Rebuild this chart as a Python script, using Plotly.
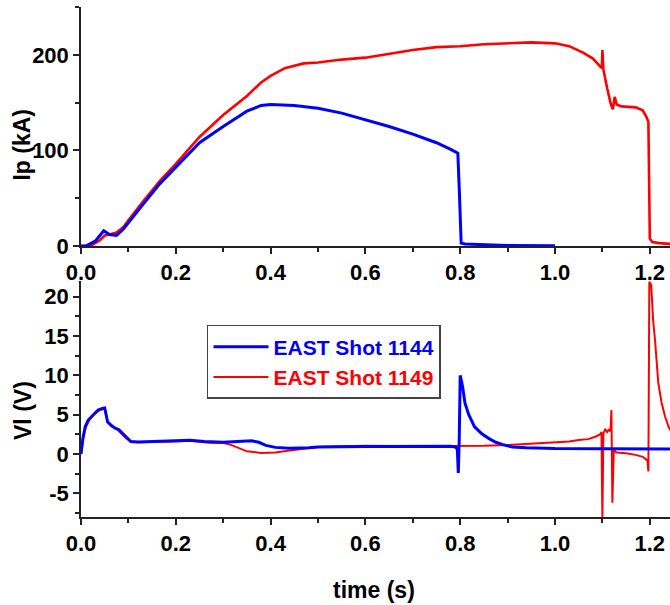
import plotly.graph_objects as go

# ---------------- data ----------------
x_ticks = [0.0, 0.2, 0.4, 0.6, 0.8, 1.0, 1.2]
x_tick_labels = ["0.0", "0.2", "0.4", "0.6", "0.8", "1.0", "1.2"]
ip_ticks = [0, 100, 200]
vl_ticks = [-5, 0, 5, 10, 15, 20]

# Plasma current Ip (kA), shot 1144
t_ip_1144 = [0.0, 0.01, 0.03, 0.048, 0.06, 0.075, 0.09, 0.1, 0.13, 0.166, 0.2, 0.25, 0.3,
             0.35, 0.38, 0.4, 0.45, 0.5, 0.55, 0.6, 0.65, 0.7, 0.75, 0.78, 0.795, 0.798,
             0.802, 0.81, 0.85, 0.9, 1.0]
ip_1144 = [0, 0, 5, 16, 12, 11, 18, 24, 43, 65, 82, 108, 125,
           141, 147, 148, 147, 144, 139, 132, 125, 117, 108, 101, 97, 60,
           3, 2, 1, 0.5, 0.3]

# Plasma current Ip (kA), shot 1149
t_ip_1149 = [0.0, 0.02, 0.04, 0.05, 0.06, 0.075, 0.09, 0.1, 0.13, 0.166, 0.2, 0.25, 0.3,
             0.35, 0.38, 0.4, 0.43, 0.47, 0.5, 0.55, 0.6, 0.65, 0.7, 0.75, 0.8, 0.85,
             0.9, 0.95, 1.0, 1.03, 1.06, 1.08, 1.095, 1.099, 1.1, 1.102, 1.11, 1.118,
             1.122, 1.126, 1.13, 1.14, 1.17, 1.185, 1.192, 1.197, 1.2, 1.205, 1.22, 1.25]
ip_1149 = [0, 0, 6, 11, 12, 14, 20, 27, 46, 68, 86, 114, 137,
           157, 171, 178, 186, 191, 192, 195, 197, 201, 205, 208, 209, 211,
           212, 213, 212, 209, 202, 196, 188, 186, 205, 185, 165, 148,
           143, 156, 148, 146, 145, 142, 136, 130, 8, 4, 3, 2]

# Loop voltage Vl (V), shot 1144
t_vl_1144 = [0.0, 0.004, 0.009, 0.015, 0.023, 0.03, 0.036, 0.045, 0.05, 0.053, 0.056, 0.065,
             0.072, 0.08, 0.09, 0.1, 0.105, 0.12, 0.15, 0.2, 0.23, 0.26, 0.3, 0.33, 0.36,
             0.375, 0.39, 0.41, 0.44, 0.48, 0.5, 0.6, 0.7, 0.78, 0.79, 0.794, 0.796, 0.798,
             0.8, 0.802, 0.805, 0.81, 0.818, 0.83, 0.845, 0.86, 0.875, 0.89, 0.91, 0.94,
             1.0, 1.1, 1.2, 1.25]
vl_1144 = [0, 2.0, 3.5, 4.3, 4.8, 5.3, 5.6, 5.8, 5.85, 5.0, 4.1, 3.6,
           3.3, 3.1, 2.5, 1.9, 1.6, 1.55, 1.6, 1.7, 1.75, 1.6, 1.5, 1.6, 1.7,
           1.5, 1.1, 0.85, 0.75, 0.8, 0.9, 0.95, 0.95, 1.0, 0.9, 0.6, -2.4, 2.0,
           10.0, 9.5, 8.6, 6.5, 5.0, 3.5, 2.6, 2.0, 1.5, 1.2, 0.9, 0.8,
           0.7, 0.68, 0.65, 0.65]

# Loop voltage Vl (V), shot 1149
t_vl_1149 = [0.0, 0.005, 0.01, 0.02, 0.03, 0.04, 0.05, 0.053, 0.057, 0.065, 0.075, 0.085,
             0.095, 0.105, 0.12, 0.2, 0.23, 0.27, 0.3, 0.315, 0.33, 0.35, 0.38, 0.41, 0.44,
             0.47, 0.5, 0.55, 0.6, 0.7, 0.8, 0.85, 0.9, 0.95, 1.0, 1.03, 1.05, 1.07,
             1.085, 1.095, 1.098, 1.1, 1.102, 1.106, 1.11, 1.114, 1.117, 1.119, 1.121,
             1.124, 1.13, 1.15, 1.17, 1.185, 1.195, 1.197, 1.199, 1.203, 1.207, 1.211,
             1.218, 1.225, 1.232, 1.24, 1.245]
vl_1149 = [0, 2.2, 3.4, 4.6, 5.2, 5.6, 5.8, 4.8, 4.0, 3.5, 3.2, 2.6,
           2.0, 1.6, 1.5, 1.6, 1.7, 1.45, 1.4, 1.2, 0.8, 0.35, 0.15, 0.2, 0.45,
           0.7, 0.9, 1.0, 1.05, 1.0, 1.0, 1.05, 1.15, 1.3, 1.5, 1.6, 1.8, 1.9,
           2.2, 2.5, 2.8, -8.3, 2.6, 3.2, 2.8, 3.1, 2.9, 5.6, -6.2,
           0.5, 0.2, 0.1, -0.1, -0.35, -0.8, -2.2, 21.9, 21.5, 17, 14.5,
           9, 6.5, 4.8, 3.4, 2.9]

name_1144 = "EAST Shot 1144"
name_1149 = "EAST Shot 1149"

# ---------------- style ----------------
BLUE = "#0000ff"
RED = "#ff0000"
AXC = "#222222"
FONT = "Liberation Sans, Arial, sans-serif"

fig = go.Figure()
fig.add_trace(go.Scatter(x=t_ip_1149, y=ip_1149, xaxis="x", yaxis="y", mode="lines",
                         line=dict(color=RED, width=2.6), showlegend=False))
fig.add_trace(go.Scatter(x=t_ip_1144, y=ip_1144, xaxis="x", yaxis="y", mode="lines",
                         line=dict(color=BLUE, width=3), showlegend=False))
fig.add_trace(go.Scatter(x=t_vl_1149, y=vl_1149, xaxis="x2", yaxis="y2", mode="lines",
                         name="<span style='color:%s'>%s</span>" % (RED, name_1149),
                         line=dict(color=RED, width=2)))
fig.add_trace(go.Scatter(x=t_vl_1144, y=vl_1144, xaxis="x2", yaxis="y2", mode="lines",
                         name="<span style='color:%s'>%s</span>" % (BLUE, name_1144),
                         line=dict(color=BLUE, width=3)))

tickfont = dict(family=FONT, size=22, color="black", weight="bold")

def xax(anchor):
    return dict(anchor=anchor, domain=[0, 1], range=[0, 1.2426],
                tickmode="array", tickvals=x_ticks, ticktext=x_tick_labels,
                ticks="outside", ticklen=6, tickwidth=1.5, tickcolor=AXC,
                showline=True, linecolor=AXC, linewidth=1.5,
                showgrid=False, zeroline=False, tickfont=tickfont,
                minor=dict(tickmode="linear", tick0=0, dtick=0.1, ticks="outside",
                           ticklen=4, tickwidth=1.5, tickcolor=AXC, showgrid=False))

def yax(anchor, domain, rng, vals, mdt):
    return dict(anchor=anchor, domain=domain, range=rng,
                tickmode="array", tickvals=vals, ticktext=[str(v) for v in vals],
                ticks="outside", ticklen=6, tickwidth=1.5, tickcolor=AXC,
                showline=True, linecolor=AXC, linewidth=1.5,
                showgrid=False, zeroline=False, tickfont=tickfont,
                minor=dict(tickmode="linear", tick0=0, dtick=mdt, ticks="outside",
                           ticklen=4, tickwidth=1.5, tickcolor=AXC, showgrid=False))

titlefont = dict(family=FONT, size=23, color="black", weight="bold")

fig.update_layout(
    width=670, height=605,
    margin=dict(l=81, r=0, t=7, b=88),
    paper_bgcolor="white", plot_bgcolor="white",
    xaxis=xax("y"),
    yaxis=yax("x", [0.5314, 1.0], [0, 250], ip_ticks, 50),
    xaxis2=xax("y2"),
    yaxis2=yax("x2", [0.0, 0.4627], [-8, 22], vl_ticks, 2.5),
    legend=dict(x=0.2139, y=0.3765, xanchor="left", yanchor="top",
                traceorder="reversed",
                bgcolor="white", bordercolor="#444444", borderwidth=1.5,
                font=dict(family=FONT, size=21, weight="bold"),
                itemwidth=55, tracegroupgap=0),
    annotations=[
        dict(text="Ip (kA)", xref="paper", yref="paper", x=-0.1002, y=0.7302,
             xanchor="center", yanchor="middle", textangle=-90, showarrow=False,
             font=titlefont),
        dict(text="Vl (V)", xref="paper", yref="paper", x=-0.0985, y=0.2098,
             xanchor="center", yanchor="middle", textangle=-90, showarrow=False,
             font=titlefont),
        dict(text="time (s)", xref="paper", yref="paper", x=0.4975, y=-0.1431,
             xanchor="center", yanchor="middle", showarrow=False, font=titlefont),
    ],
)

fig.write_html("out.html")
